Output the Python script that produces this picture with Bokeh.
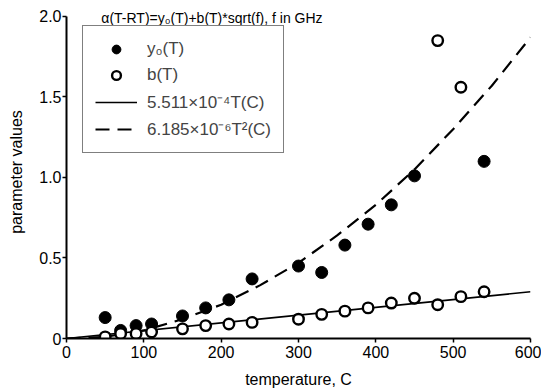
from bokeh.plotting import figure
from bokeh.models import Legend, LegendItem, Label, FixedTicker, Range1d
from bokeh.embed import file_html
from bokeh.resources import INLINE

# --- data ---
T_y0 = [50, 70, 90, 110, 150, 180, 210, 240, 300, 330, 360, 390, 420, 450, 540]
y0 = [0.13, 0.05, 0.08, 0.09, 0.14, 0.19, 0.24, 0.37, 0.45, 0.41, 0.58, 0.71, 0.83, 1.01, 1.10]

T_b = [50, 70, 90, 110, 150, 180, 210, 240, 300, 330, 360, 390, 420, 450, 480, 510, 540, 480, 510]
b = [0.01, 0.03, 0.03, 0.04, 0.06, 0.08, 0.09, 0.10, 0.12, 0.15, 0.17, 0.19, 0.22, 0.25, 0.21, 0.26, 0.29, 1.85, 1.56]

T_lin = [0, 600]
lin = [0.0, 0.29]

T_quad = [0, 50, 100, 150, 200, 250, 300, 350, 400, 450, 500, 550, 600]
quad = [0.0, 0.01, 0.05, 0.12, 0.21, 0.33, 0.47, 0.64, 0.83, 1.05, 1.30, 1.57, 1.87]

x_ticks = [0, 100, 200, 300, 400, 500, 600]
y_ticks = [0, 0.5, 1.0, 1.5, 2.0]
y_tick_labels = ["0", "0.5", "1.0", "1.5", "2.0"]

title_text = "α(T-RT)=y₀(T)+b(T)*sqrt(f), f in GHz"
legend_labels = ["y₀(T)", "b(T)", "5.511×10⁻⁴T(C)", "6.185×10⁻⁶T²(C)"]

FONT = "Liberation Sans"

p = figure(width=541, height=392, output_backend="svg", toolbar_location=None,
           x_range=Range1d(0, 600), y_range=Range1d(0, 2.068),
           min_border_left=66, min_border_right=11, min_border_top=5, min_border_bottom=54)
p.outline_line_color = None
p.grid.grid_line_color = None
p.background_fill_color = "white"

r_lin = p.line(T_lin, lin, line_color="black", line_width=1.6)
r_quad = p.line(T_quad, quad, line_color="black", line_width=2.2, line_dash="14 8")
r_y0 = p.scatter(T_y0, y0, marker="circle", size=12, fill_color="black", line_color="black")
r_b = p.scatter(T_b, b, marker="circle", size=10.5, fill_color="white", line_color="black", line_width=2.4)

p.xaxis.ticker = FixedTicker(ticks=x_ticks)
p.yaxis.ticker = FixedTicker(ticks=y_ticks)
p.yaxis.major_label_overrides = {t: s for t, s in zip(y_ticks, y_tick_labels)}
p.yaxis.bounds = (0, 2.0)
for ax in (p.xaxis[0], p.yaxis[0]):
    ax.axis_line_width = 2
    ax.axis_line_color = "black"
    ax.major_tick_line_width = 1.5
    ax.major_tick_in = 0
    ax.major_tick_out = 4
    ax.minor_tick_line_color = None
    ax.major_label_text_font = FONT
    ax.major_label_text_font_size = "16px"
    ax.major_label_text_color = "black"
    ax.axis_label_text_font = FONT
    ax.axis_label_text_font_style = "normal"
    ax.axis_label_text_color = "black"
p.xaxis.axis_label = "temperature, C"
p.yaxis.axis_label = "parameter values"
p.xaxis.axis_label_text_font_size = "16px"
p.yaxis.axis_label_text_font_size = "16px"
p.xaxis.major_label_standoff = 3
p.xaxis.axis_label_standoff = 10
p.yaxis.major_label_standoff = 1
p.yaxis.axis_label_standoff = 11

legend = Legend(items=[
    LegendItem(label=legend_labels[0], renderers=[r_y0]),
    LegendItem(label=legend_labels[1], renderers=[r_b]),
    LegendItem(label=legend_labels[2], renderers=[r_lin]),
    LegendItem(label=legend_labels[3], renderers=[r_quad]),
], location=(16, 185))
legend.border_line_color = "black"
legend.border_line_width = 1.2
legend.background_fill_alpha = 1
legend.label_text_font = FONT
legend.label_text_font_size = "17px"
legend.glyph_width = 42
legend.glyph_height = 22
legend.label_height = 22
legend.spacing = 4
legend.padding = 12
legend.margin = 0
legend.label_standoff = 10
p.add_layout(legend, "center")

p.add_layout(Label(x=45, y=1.99, text=title_text, text_font=FONT, text_font_size="14px",
                   text_baseline="middle", text_align="left", text_color="black"))

open("out.html", "w").write(file_html(p, INLINE))
